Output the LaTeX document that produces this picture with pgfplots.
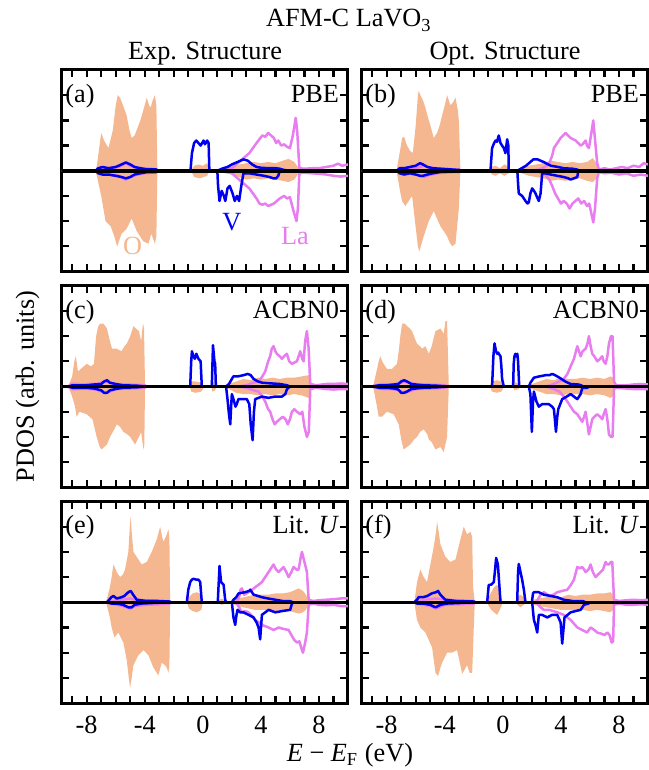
\documentclass[border=0pt]{standalone}
\usepackage{fontspec}
\setmainfont{Liberation Serif}
\usepackage{pgfplots}
\pgfplotsset{compat=1.18}
\usepgfplotslibrary{groupplots,fillbetween}
\definecolor{ocol}{RGB}{245,183,143}
\definecolor{vcol}{RGB}{0,0,240}
\definecolor{lacol}{RGB}{232,125,240}
\pgfplotsset{
  vl/.style={vcol, line width=1pt, line join=round},
  lal/.style={lacol, line width=1pt, line join=round},
  zl/.style={black, line width=1.4pt},
}
\begin{document}
\fontsize{10.5}{12.6}\selectfont
\begin{tikzpicture}
\begin{groupplot}[
  group style={group size=2 by 3, horizontal sep=5.6pt, vertical sep=5.7pt, xticklabels at=edge bottom},
  width=114.4pt, height=80.6pt, scale only axis,
  xmin=-9.7, xmax=10, ymin=-4, ymax=4,
  xtick={-8,-4,0,4,8}, xticklabels={-8,-4,0,4,8},
  minor xtick={-9,-7,-6,-5,-3,-2,-1,1,2,3,5,6,7,9},
  ytick={-3,-2,-1,0,1,2,3}, yticklabel=\empty,
  tick align=inside, major tick length=3pt, minor tick length=3pt,
  every tick/.style={black, line width=0.9pt},
  every minor tick/.style={black, line width=0.9pt},
  axis line style={line width=1.2pt},
  xticklabel style={inner sep=0pt, yshift=-5pt},
  clip mode=individual,
  no markers,
]
% ---------------- (a)
\nextgroupplot
\coordinate (NW) at (rel axis cs:0,1);
\addplot[draw=none, name path=au] coordinates {(-9.7,0) (-7.4,0) (-7.3,0.2) (-7.0,1.5) (-6.8,1.2) (-6.5,0.9) (-6.2,1.6) (-6.0,2.6) (-5.86,3.0) (-5.7,2.9) (-5.5,2.6) (-5.25,2.2) (-5.05,1.6) (-4.9,1.3) (-4.7,1.4) (-4.5,1.7) (-4.3,2.0) (-4.05,2.5) (-3.86,2.9) (-3.7,2.6) (-3.6,2.5) (-3.45,2.8) (-3.3,3.0) (-3.2,2.6) (-3.13,0) (-0.8,0) (-0.6,0.2) (-0.3,0.25) (0,0.2) (0.3,0.3) (0.45,0) (1.2,0) (1.5,0.1) (2.0,0.15) (2.5,0.25) (3.0,0.3) (3.5,0.35) (4.0,0.3) (4.5,0.35) (5.0,0.3) (5.5,0.4) (5.9,0.47) (6.3,0.35) (6.6,0.1) (7.0,0.05) (10,0.05)};
\addplot[draw=none, name path=ad] coordinates {(-9.7,0) (-7.4,0) (-7.3,-0.2) (-7.0,-1.0) (-6.7,-2.0) (-6.35,-2.2) (-6.1,-2.6) (-5.9,-3.0) (-5.6,-2.5) (-5.25,-2.3) (-4.9,-1.9) (-4.55,-2.4) (-4.1,-2.8) (-3.75,-2.9) (-3.55,-2.5) (-3.3,-2.9) (-3.2,-2.6) (-3.13,0) (-0.8,0) (-0.6,-0.25) (-0.2,-0.3) (0.3,-0.2) (0.45,0) (1.2,0) (1.5,-0.1) (2.0,-0.15) (2.5,-0.25) (3.0,-0.35) (3.5,-0.3) (4.0,-0.35) (4.5,-0.3) (5.0,-0.35) (5.5,-0.4) (5.9,-0.45) (6.3,-0.35) (6.6,-0.1) (7.0,-0.05) (10,-0.05)};
\addplot[ocol] fill between[of=au and ad];
\addplot[lal] coordinates {(-9.7,0) (-7.3,0) (-7.0,0.05) (-6.5,0.1) (-5.8,0.15) (-5.3,0.3) (-5.0,0.2) (-4.5,0.1) (-4.0,0.1) (-3.5,0.08) (-3.2,0.05) (-3.1,0) (1.5,0) (2.0,0.1) (2.3,0.25) (2.6,0.4) (2.9,0.55) (3.2,0.7) (3.45,0.9) (3.7,1.1) (3.9,1.25) (4.1,1.4) (4.3,1.35) (4.5,1.5) (4.7,1.4) (4.9,1.3) (5.05,1.1) (5.2,1.2) (5.4,1.0) (5.6,1.05) (5.8,0.95) (6.0,0.9) (6.2,1.4) (6.4,2.1) (6.5,1.6) (6.65,0.1) (7.0,0.08) (7.5,0.1) (8.0,0.1) (8.5,0.15) (9.0,0.2) (9.3,0.28) (9.6,0.2) (10,0.25)};
\addplot[lal] coordinates {(-9.7,0) (-7.3,0) (-7.0,-0.05) (-6.5,-0.15) (-5.8,-0.2) (-5.3,-0.35) (-5.0,-0.25) (-4.5,-0.15) (-4.0,-0.1) (-3.5,-0.08) (-3.2,-0.05) (-3.1,0) (1.5,0) (2.0,-0.1) (2.3,-0.25) (2.6,-0.4) (2.9,-0.55) (3.2,-0.7) (3.45,-0.9) (3.7,-1.1) (3.9,-1.3) (4.1,-1.35) (4.3,-1.3) (4.5,-1.4) (4.7,-1.35) (4.9,-1.3) (5.1,-1.2) (5.3,-1.1) (5.6,-1.0) (5.8,-1.1) (6.0,-1.05) (6.2,-1.5) (6.45,-2.0) (6.55,-1.5) (6.65,-0.1) (7.0,-0.08) (7.5,-0.1) (8.0,-0.12) (8.5,-0.15) (9.0,-0.2) (9.5,-0.23) (10,-0.2)};
\addplot[vl] coordinates {(-9.7,0) (-7.4,0) (-7.2,0.1) (-6.9,0.15) (-6.5,0.1) (-6.0,0.15) (-5.6,0.25) (-5.3,0.33) (-5.0,0.25) (-4.7,0.15) (-4.3,0.1) (-3.8,0.05) (-3.2,0.05) (-3.1,0) (-0.85,0) (-0.75,0.7) (-0.6,1.1) (-0.45,1.2) (-0.3,1.1) (-0.15,1.0) (0.05,1.2) (0.15,1.05) (0.3,1.2) (0.4,1.1) (0.45,0) (1.0,0) (1.4,0.1) (1.7,0.15) (2.0,0.25) (2.4,0.35) (2.6,0.4) (2.8,0.45) (3.1,0.4) (3.4,0.25) (3.7,0.15) (4.0,0.12) (4.5,0.1) (5.0,0.1) (5.3,0.08) (5.6,0.03) (6.0,0) (10,0)};
\addplot[vl] coordinates {(-9.7,0) (-7.4,0) (-7.2,-0.1) (-6.9,-0.15) (-6.5,-0.15) (-6.0,-0.2) (-5.6,-0.25) (-5.3,-0.3) (-5.0,-0.25) (-4.7,-0.15) (-4.3,-0.1) (-3.8,-0.05) (-3.2,-0.05) (-3.1,0) (1.0,0) (1.05,-0.6) (1.15,-1.2) (1.3,-0.8) (1.45,-1.0) (1.55,-1.2) (1.7,-0.7) (1.85,-0.6) (2.05,-0.9) (2.2,-1.2) (2.35,-1.0) (2.5,-1.2) (2.65,-0.6) (2.8,-0.1) (3.2,-0.1) (3.7,-0.15) (4.2,-0.2) (4.6,-0.25) (4.85,-0.3) (5.05,-0.3) (5.2,-0.2) (5.3,0) (10,0)};
\addplot[zl] coordinates {(-9.7,0) (10,0)};
\node[anchor=base west, inner sep=0] at (rel axis cs:0.01,0.84) {(a)};
\node[anchor=base east, inner sep=0] at (rel axis cs:0.97,0.84) {PBE};
\node[ocol] at (axis cs:-4.83,-3.0) {O};
\node[vcol] at (axis cs:2.0,-2.05) {V};
\node[lacol] at (axis cs:6.35,-2.6) {La};
\node[anchor=base, yshift=4pt] at (rel axis cs:0.5,1) {Exp. Structure};
\node[anchor=base, xshift=0.4pt, yshift=17.2pt] at (rel axis cs:1,1) {AFM-C LaVO\textsubscript{3}};
% ---------------- (b)
\nextgroupplot
\addplot[draw=none, name path=bu] coordinates {(-9.7,0) (-7.4,0) (-7.29,0.1) (-7.05,0.9) (-6.94,1.3) (-6.8,1.35) (-6.6,1.0) (-6.4,0.8) (-6.2,0.7) (-6.0,1.8) (-5.85,3.0) (-5.79,3.17) (-5.68,3.0) (-5.5,2.8) (-5.33,2.5) (-5.15,2.1) (-4.99,1.8) (-4.76,1.3) (-4.53,1.5) (-4.35,1.8) (-4.18,2.2) (-4.0,2.6) (-3.84,3.0) (-3.61,2.6) (-3.45,2.7) (-3.26,2.9) (-3.1,2.4) (-3.03,2.0) (-2.92,0) (-0.9,0) (-0.75,0.15) (-0.5,0.2) (-0.2,0.1) (0.1,0.25) (0.3,0.2) (0.5,0) (1.0,0) (1.3,0.1) (1.8,0.2) (2.3,0.25) (2.8,0.3) (3.3,0.4) (3.8,0.35) (4.3,0.3) (4.8,0.35) (5.3,0.3) (5.8,0.35) (6.2,0.5) (6.45,0.3) (6.6,0.1) (7.0,0.05) (10,0.05)};
\addplot[draw=none, name path=bd] coordinates {(-9.7,0) (-7.4,0) (-7.29,-0.1) (-7.05,-0.9) (-6.94,-1.2) (-6.71,-1.4) (-6.48,-1.2) (-6.25,-1.0) (-6.05,-2.0) (-5.85,-3.0) (-5.75,-3.2) (-5.6,-2.9) (-5.45,-2.6) (-5.1,-2.0) (-4.76,-1.6) (-4.53,-1.9) (-4.3,-2.2) (-4.07,-2.4) (-3.84,-2.6) (-3.7,-2.8) (-3.49,-3.0) (-3.26,-2.9) (-3.03,-1.5) (-2.92,0) (-0.9,0) (-0.75,-0.15) (-0.5,-0.2) (-0.2,-0.1) (0.1,-0.2) (0.4,-0.1) (0.5,0) (1.0,0) (1.3,-0.1) (1.8,-0.2) (2.3,-0.25) (2.8,-0.3) (3.3,-0.4) (3.8,-0.35) (4.3,-0.4) (4.8,-0.35) (5.3,-0.3) (5.8,-0.4) (6.2,-0.45) (6.45,-0.3) (6.6,-0.1) (7.0,-0.05) (10,-0.05)};
\addplot[ocol] fill between[of=bu and bd];
\addplot[lal] coordinates {(-9.7,0) (-7.3,0) (-7.0,0.05) (-6.5,0.1) (-6.0,0.1) (-5.7,0.15) (-5.4,0.2) (-5.0,0.12) (-4.5,0.1) (-4.0,0.08) (-3.5,0.06) (-3.0,0.05) (-2.9,0) (2.0,0) (2.5,0.05) (2.9,0.15) (3.2,0.3) (3.4,0.6) (3.52,0.9) (3.75,1.1) (3.98,1.3) (4.15,1.4) (4.32,1.5) (4.5,1.4) (4.67,1.3) (4.85,1.25) (5.01,1.2) (5.2,1.1) (5.36,1.0) (5.5,1.05) (5.7,1.2) (5.8,1.0) (5.93,0.9) (6.1,1.5) (6.23,2.0) (6.39,1.0) (6.5,0.3) (6.62,0.05) (7.0,0.1) (7.4,0.05) (7.8,0.1) (8.2,0.15) (8.6,0.1) (9.0,0.2) (9.4,0.15) (9.7,0.3) (10,0.25)};
\addplot[lal] coordinates {(-9.7,0) (-7.3,0) (-7.0,-0.05) (-6.5,-0.1) (-6.0,-0.15) (-5.7,-0.2) (-5.4,-0.25) (-5.0,-0.15) (-4.5,-0.1) (-4.0,-0.08) (-3.5,-0.06) (-3.0,-0.05) (-2.9,0) (2.0,0) (2.5,-0.05) (2.9,-0.15) (3.2,-0.35) (3.4,-0.6) (3.6,-0.9) (3.8,-1.1) (4.0,-1.3) (4.2,-1.2) (4.4,-1.3) (4.6,-1.5) (4.8,-1.3) (5.0,-1.2) (5.2,-1.1) (5.4,-1.3) (5.6,-1.2) (5.8,-1.4) (5.95,-1.3) (6.1,-1.7) (6.23,-2.05) (6.35,-1.5) (6.5,-0.3) (6.62,-0.05) (7.0,-0.1) (7.5,-0.08) (8.0,-0.15) (8.5,-0.1) (9.0,-0.2) (9.5,-0.15) (10,-0.2)};
\addplot[vl] coordinates {(-9.7,0) (-7.3,0) (-7.1,0.1) (-6.8,0.1) (-6.4,0.15) (-6.0,0.2) (-5.7,0.3) (-5.5,0.25) (-5.2,0.15) (-4.8,0.1) (-4.3,0.08) (-3.5,0.05) (-3.0,0.03) (-2.9,0) (-0.85,0) (-0.74,0.9) (-0.6,1.1) (-0.5,1.2) (-0.4,1.15) (-0.28,1.4) (-0.16,1.1) (-0.05,1.0) (0.07,0.9) (0.18,0.7) (0.3,1.25) (0.38,1.0) (0.41,0) (1.0,0) (1.3,0.1) (1.6,0.2) (1.8,0.3) (2.1,0.45) (2.4,0.45) (2.6,0.4) (2.8,0.35) (3.3,0.2) (3.8,0.15) (4.2,0.1) (4.8,0.08) (5.1,0.05) (5.3,0) (10,0)};
\addplot[vl] coordinates {(-9.7,0) (-7.3,0) (-7.1,-0.1) (-6.8,-0.15) (-6.4,-0.1) (-6.0,-0.15) (-5.7,-0.2) (-5.5,-0.2) (-5.2,-0.15) (-4.8,-0.1) (-4.3,-0.05) (-3.5,-0.03) (-2.9,0) (1.0,0) (1.05,-0.5) (1.1,-0.9) (1.33,-1.0) (1.45,-1.1) (1.56,-1.2) (1.7,-1.3) (1.79,-1.25) (1.9,-0.9) (2.02,-0.7) (2.15,-0.8) (2.25,-0.9) (2.4,-1.1) (2.48,-1.2) (2.6,-0.9) (2.71,-0.1) (2.9,-0.1) (3.3,-0.15) (3.75,-0.2) (4.2,-0.25) (4.5,-0.3) (4.67,-0.35) (4.9,-0.3) (5.13,-0.25) (5.2,0) (10,0)};
\addplot[zl] coordinates {(-9.7,0) (10,0)};
\node[anchor=base west, inner sep=0] at (rel axis cs:0.01,0.84) {(b)};
\node[anchor=base east, inner sep=0] at (rel axis cs:0.97,0.84) {PBE};
\node[anchor=base, yshift=4pt] at (rel axis cs:0.5,1) {Opt. Structure};
% ---------------- (c)
\nextgroupplot
\addplot[draw=none, name path=cu] coordinates {(-9.7,0) (-9.4,0) (-9.2,0.1) (-9.0,0.4) (-8.85,1.0) (-8.75,1.2) (-8.6,0.6) (-8.4,0.7) (-8.0,0.9) (-7.7,0.8) (-7.5,0.9) (-7.35,2.0) (-7.2,2.4) (-7.05,2.5) (-6.85,2.5) (-6.6,2.3) (-6.4,1.8) (-6.25,1.5) (-5.93,1.5) (-5.6,1.4) (-5.4,1.6) (-5.24,1.7) (-5.0,2.0) (-4.78,2.4) (-4.6,2.3) (-4.4,2.2) (-4.25,1.8) (-4.12,2.5) (-4.05,2.3) (-3.98,0) (-0.9,0) (-0.8,0.2) (-0.5,0.2) (-0.1,0.15) (0.1,0) (0.6,0) (0.65,0.2) (0.85,0.15) (0.95,0) (1.5,0) (1.8,0.1) (2.3,0.2) (2.8,0.3) (3.3,0.25) (3.8,0.35) (4.3,0.3) (4.8,0.35) (5.3,0.3) (5.8,0.35) (6.3,0.35) (6.8,0.4) (7.3,0.45) (7.4,0.1) (7.6,0.05) (10,0.05)};
\addplot[draw=none, name path=cd] coordinates {(-9.7,0) (-9.4,0) (-9.2,-0.1) (-9.0,-0.4) (-8.8,-0.8) (-8.7,-1.2) (-8.5,-1.0) (-8.0,-1.1) (-7.6,-1.3) (-7.31,-2.0) (-7.1,-2.4) (-6.97,-2.5) (-6.8,-2.4) (-6.6,-2.3) (-6.39,-2.0) (-6.1,-1.7) (-5.93,-1.5) (-5.7,-1.6) (-5.47,-1.8) (-5.2,-1.9) (-5.0,-2.0) (-4.67,-2.3) (-4.4,-2.0) (-4.25,-1.8) (-4.09,-2.5) (-4.03,-2.3) (-3.98,0) (-0.9,0) (-0.8,-0.2) (-0.5,-0.25) (-0.1,-0.2) (0.1,0) (0.6,0) (0.65,-0.2) (0.85,-0.15) (0.95,0) (1.5,0) (1.8,-0.1) (2.3,-0.25) (2.8,-0.3) (3.3,-0.3) (3.8,-0.35) (4.3,-0.3) (4.8,-0.35) (5.3,-0.3) (5.8,-0.35) (6.3,-0.3) (6.8,-0.35) (7.3,-0.45) (7.4,-0.1) (7.6,-0.05) (10,-0.05)};
\addplot[ocol] fill between[of=cu and cd];
\addplot[lal] coordinates {(-9.7,0) (-9.3,0) (-9.0,0.1) (-8.7,0.1) (-8.3,0.08) (-7.8,0.1) (-7.3,0.1) (-7.0,0.15) (-6.7,0.2) (-6.4,0.15) (-6.0,0.1) (-5.0,0.08) (-4.0,0.05) (-3.9,0) (2.5,0) (3.0,0.05) (3.5,0.15) (3.84,0.2) (4.1,0.4) (4.3,0.6) (4.5,1.0) (4.64,1.2) (4.75,1.5) (4.87,1.6) (5.0,1.4) (5.1,1.3) (5.3,1.2) (5.45,1.1) (5.6,1.2) (5.79,1.3) (5.95,1.0) (6.14,0.9) (6.3,0.95) (6.48,1.0) (6.6,1.2) (6.71,1.4) (6.85,1.1) (6.94,1.0) (7.05,1.8) (7.17,2.2) (7.29,1.5) (7.4,0.1) (7.8,0.05) (8.5,0.1) (9.0,0.1) (9.5,0.12) (10,0.1)};
\addplot[lal] coordinates {(-9.7,0) (-9.3,0) (-9.0,-0.1) (-8.7,-0.1) (-8.3,-0.08) (-7.8,-0.1) (-7.3,-0.12) (-7.0,-0.2) (-6.7,-0.25) (-6.4,-0.2) (-6.0,-0.1) (-5.0,-0.08) (-4.0,-0.05) (-3.9,0) (2.5,0) (3.0,-0.05) (3.5,-0.15) (3.84,-0.2) (4.1,-0.4) (4.3,-0.6) (4.5,-0.9) (4.64,-1.0) (4.8,-1.3) (4.95,-1.5) (5.1,-1.4) (5.3,-1.3) (5.5,-1.2) (5.7,-1.3) (5.85,-1.5) (6.0,-1.3) (6.14,-1.0) (6.3,-0.9) (6.48,-1.0) (6.71,-1.1) (6.85,-1.0) (7.0,-1.6) (7.17,-2.0) (7.3,-1.8) (7.4,-0.1) (7.8,-0.05) (8.5,-0.1) (9.0,-0.12) (9.5,-0.1) (10,-0.1)};
\addplot[vl] coordinates {(-9.7,0) (-9.2,0) (-9.0,0.05) (-8.5,0.05) (-8.0,0.05) (-7.5,0.08) (-7.0,0.1) (-6.8,0.2) (-6.6,0.25) (-6.4,0.15) (-6.0,0.1) (-5.5,0.05) (-4.5,0.03) (-4.0,0) (-0.87,0) (-0.8,1.0) (-0.75,1.4) (-0.65,1.2) (-0.55,1.1) (-0.45,1.3) (-0.3,1.1) (-0.15,1.0) (-0.07,0) (0.62,0) (0.7,1.64) (0.8,1.0) (0.85,0.9) (0.9,0) (1.6,0) (1.8,0.1) (2.0,0.3) (2.1,0.4) (2.4,0.4) (2.8,0.45) (3.1,0.5) (3.3,0.45) (3.5,0.3) (3.8,0.2) (4.1,0.15) (4.8,0.12) (5.3,0.1) (5.8,0.05) (6.0,0) (10,0)};
\addplot[vl] coordinates {(-9.7,0) (-9.2,0) (-9.0,-0.05) (-8.5,-0.05) (-8.0,-0.05) (-7.5,-0.08) (-7.0,-0.15) (-6.8,-0.25) (-6.6,-0.25) (-6.4,-0.15) (-6.0,-0.1) (-5.5,-0.05) (-4.5,-0.03) (-4.0,0) (1.6,0) (1.7,-0.5) (1.8,-1.1) (1.89,-1.5) (1.95,-0.8) (2.0,-0.3) (2.11,-0.5) (2.25,-0.8) (2.34,-0.7) (2.45,-0.5) (2.57,-0.5) (3.03,-0.5) (3.2,-0.7) (3.3,-1.5) (3.43,-2.13) (3.52,-1.0) (3.61,-0.5) (4.07,-0.4) (4.5,-0.45) (4.99,-0.4) (5.45,-0.4) (5.68,-0.3) (5.8,-0.1) (5.91,-0.05) (6.0,0) (10,0)};
\addplot[zl] coordinates {(-9.7,0) (10,0)};
\node[anchor=base west, inner sep=0] at (rel axis cs:0.01,0.84) {(c)};
\node[anchor=base east, inner sep=0] at (rel axis cs:0.97,0.84) {ACBN0};
\node[xshift=-11.2pt, rotate=90, anchor=base] at (rel axis cs:0,0.5) {PDOS (arb. units)};
% ---------------- (d)
\nextgroupplot
\addplot[draw=none, name path=du] coordinates {(-9.7,0) (-9.0,0) (-8.9,0.1) (-8.7,0.6) (-8.55,1.0) (-8.44,1.2) (-8.3,1.0) (-8.21,0.9) (-7.98,0.7) (-7.63,0.7) (-7.29,0.9) (-7.15,1.5) (-7.06,2.0) (-6.94,2.5) (-6.75,2.5) (-6.6,2.4) (-6.4,2.3) (-6.25,2.2) (-6.05,1.9) (-5.91,1.7) (-5.7,1.6) (-5.56,1.5) (-5.33,1.6) (-5.1,1.3) (-4.9,1.6) (-4.64,2.2) (-4.3,2.3) (-4.07,2.1) (-3.95,2.6) (-3.84,2.6) (-3.72,0) (-0.9,0) (-0.75,0.2) (-0.4,0.25) (-0.1,0.2) (0.1,0) (0.7,0) (0.8,0.2) (1.1,0.1) (1.2,0) (1.7,0) (2.0,0.1) (2.5,0.2) (3.0,0.3) (3.5,0.25) (4.0,0.35) (4.5,0.3) (5.0,0.3) (5.5,0.35) (6.0,0.3) (6.5,0.35) (7.0,0.3) (7.4,0.4) (7.6,0.35) (7.75,0.05) (10,0.03)};
\addplot[draw=none, name path=dd] coordinates {(-9.7,0) (-9.0,0) (-8.9,-0.1) (-8.7,-0.7) (-8.55,-1.2) (-8.32,-1.2) (-7.98,-1.0) (-7.52,-1.1) (-7.17,-1.5) (-7.0,-2.1) (-6.83,-2.5) (-6.6,-2.4) (-6.37,-2.3) (-6.1,-2.1) (-5.91,-2.0) (-5.7,-1.8) (-5.45,-1.7) (-5.2,-1.9) (-5.1,-2.1) (-4.9,-2.2) (-4.64,-2.5) (-4.3,-2.4) (-4.07,-2.6) (-3.84,-2.0) (-3.72,0) (-0.9,0) (-0.75,-0.2) (-0.4,-0.25) (-0.1,-0.2) (0.1,0) (0.7,0) (0.8,-0.15) (1.1,-0.1) (1.2,0) (1.7,0) (2.0,-0.1) (2.5,-0.2) (3.0,-0.3) (3.5,-0.3) (4.0,-0.35) (4.5,-0.3) (5.0,-0.3) (5.5,-0.3) (6.0,-0.35) (6.5,-0.3) (7.0,-0.35) (7.4,-0.45) (7.6,-0.4) (7.75,-0.05) (10,-0.03)};
\addplot[ocol] fill between[of=du and dd];
\addplot[lal] coordinates {(-9.7,0) (-9.0,0) (-8.7,0.05) (-8.3,0.1) (-7.8,0.08) (-7.3,0.1) (-7.0,0.15) (-6.8,0.2) (-6.5,0.15) (-6.0,0.1) (-5.0,0.08) (-4.0,0.05) (-3.7,0) (3.0,0) (3.5,0.1) (3.9,0.2) (4.2,0.3) (4.45,0.5) (4.67,0.8) (4.9,1.1) (5.13,1.6) (5.25,1.4) (5.36,1.2) (5.5,1.4) (5.7,1.5) (5.83,1.7) (5.93,2.0) (6.05,1.6) (6.16,1.3) (6.3,1.2) (6.51,1.0) (6.7,1.1) (6.85,1.2) (6.95,1.0) (7.08,0.9) (7.2,1.2) (7.31,1.7) (7.45,2.0) (7.56,2.0) (7.66,0.2) (7.8,0.05) (8.5,0.05) (9.0,0.08) (9.5,0.1) (10,0.08)};
\addplot[lal] coordinates {(-9.7,0) (-9.0,0) (-8.7,-0.05) (-8.3,-0.1) (-7.8,-0.1) (-7.3,-0.12) (-7.0,-0.2) (-6.8,-0.25) (-6.5,-0.2) (-6.0,-0.1) (-5.0,-0.08) (-4.0,-0.05) (-3.7,0) (3.0,0) (3.5,-0.1) (3.9,-0.2) (4.2,-0.4) (4.45,-0.6) (4.67,-0.8) (4.9,-1.0) (5.13,-1.1) (5.3,-1.25) (5.47,-1.4) (5.6,-1.2) (5.7,-1.0) (5.83,-1.5) (5.93,-1.9) (6.05,-1.6) (6.16,-1.3) (6.3,-1.2) (6.51,-1.1) (6.7,-1.2) (6.85,-1.3) (6.95,-1.1) (7.08,-0.9) (7.2,-1.3) (7.31,-1.9) (7.45,-2.0) (7.56,-2.0) (7.66,-0.1) (7.8,-0.05) (8.5,-0.08) (9.0,-0.1) (9.5,-0.1) (10,-0.1)};
\addplot[vl] coordinates {(-9.7,0) (-9.0,0) (-8.5,0.05) (-8.0,0.05) (-7.5,0.08) (-7.2,0.1) (-7.0,0.2) (-6.8,0.25) (-6.6,0.2) (-6.3,0.1) (-6.0,0.08) (-5.5,0.05) (-4.5,0.03) (-3.8,0) (-0.74,0) (-0.65,1.2) (-0.57,1.71) (-0.47,1.4) (-0.39,1.3) (-0.32,1.35) (-0.28,1.3) (-0.16,1.2) (-0.1,0.8) (-0.05,0.3) (0.07,0) (0.71,0) (0.75,0.9) (0.8,1.2) (0.87,1.3) (0.92,1.2) (1.0,1.3) (1.05,1.0) (1.13,0) (1.8,0) (1.9,0.15) (2.14,0.35) (2.5,0.4) (2.95,0.45) (3.2,0.45) (3.4,0.5) (3.6,0.45) (3.9,0.35) (4.3,0.2) (4.67,0.1) (5.2,0.08) (5.4,0.05) (5.5,0) (10,0)};
\addplot[vl] coordinates {(-9.7,0) (-9.0,0) (-8.5,-0.05) (-8.0,-0.05) (-7.5,-0.08) (-7.2,-0.12) (-7.0,-0.25) (-6.8,-0.25) (-6.6,-0.2) (-6.3,-0.1) (-6.0,-0.08) (-5.5,-0.05) (-4.5,-0.03) (-3.8,0) (1.79,0) (1.9,-0.3) (2.0,-1.8) (2.08,-0.6) (2.14,-0.2) (2.32,-0.6) (2.48,-0.8) (2.71,-0.7) (3.17,-0.7) (3.4,-0.8) (3.52,-0.9) (3.6,-1.4) (3.66,-1.8) (3.75,-1.2) (3.82,-0.9) (4.09,-0.5) (4.4,-0.4) (4.67,-0.3) (4.9,-0.4) (5.13,-0.5) (5.25,-0.4) (5.36,-0.3) (5.47,-0.05) (5.8,-0.05) (6.0,0) (10,0)};
\addplot[zl] coordinates {(-9.7,0) (10,0)};
\node[anchor=base west, inner sep=0] at (rel axis cs:0.01,0.84) {(d)};
\node[anchor=base east, inner sep=0] at (rel axis cs:0.97,0.84) {ACBN0};
% ---------------- (e)
\nextgroupplot
\addplot[draw=none, name path=eu] coordinates {(-9.7,0) (-6.7,0) (-6.62,0.1) (-6.4,0.6) (-6.28,1.0) (-6.16,1.5) (-6.0,1.3) (-5.93,1.2) (-5.7,1.0) (-5.5,1.1) (-5.36,1.3) (-5.13,2.0) (-5.03,3.0) (-4.97,3.4) (-4.9,2.8) (-4.78,2.0) (-4.55,1.8) (-4.21,1.5) (-3.86,1.6) (-3.52,2.0) (-3.17,2.5) (-2.94,3.0) (-2.8,2.6) (-2.71,2.4) (-2.55,2.6) (-2.48,2.7) (-2.37,2.9) (-2.3,2.5) (-2.25,0) (-1.1,0) (-0.95,0.2) (-0.7,0.35) (-0.4,0.4) (-0.1,0.3) (0.0,0) (1.0,0) (1.1,0.1) (1.3,0.15) (1.6,0.05) (1.8,0) (2.0,0.05) (2.4,0.15) (2.8,0.2) (3.2,0.25) (3.6,0.3) (4.0,0.3) (4.5,0.3) (5.0,0.35) (5.5,0.35) (6.0,0.4) (6.6,0.55) (6.9,0.45) (7.1,0.3) (7.25,0.1) (7.5,0.05) (10,0.03)};
\addplot[draw=none, name path=ed] coordinates {(-9.7,0) (-6.7,0) (-6.62,-0.1) (-6.4,-0.6) (-6.28,-1.0) (-6.09,-1.4) (-5.82,-1.2) (-5.47,-1.6) (-5.24,-2.3) (-5.1,-3.0) (-5.01,-3.4) (-4.9,-3.0) (-4.78,-2.5) (-4.44,-2.1) (-4.09,-1.9) (-3.75,-2.1) (-3.4,-2.6) (-3.06,-2.9) (-2.83,-2.4) (-2.6,-2.5) (-2.48,-2.6) (-2.37,-2.8) (-2.3,-2.5) (-2.25,0) (-1.1,0) (-0.95,-0.25) (-0.7,-0.35) (-0.4,-0.4) (-0.1,-0.3) (0.0,0) (1.0,0) (1.1,-0.05) (1.3,-0.1) (1.6,-0.05) (1.8,0) (2.0,-0.05) (2.4,-0.15) (2.8,-0.2) (3.2,-0.25) (3.6,-0.3) (4.0,-0.3) (4.5,-0.3) (5.0,-0.35) (5.5,-0.3) (6.0,-0.35) (6.6,-0.45) (6.9,-0.4) (7.1,-0.3) (7.25,-0.1) (7.5,-0.05) (10,-0.03)};
\addplot[ocol] fill between[of=eu and ed];
\addplot[lal] coordinates {(-9.7,0) (-6.6,0) (-6.3,0.05) (-5.9,0.08) (-5.5,0.1) (-5.0,0.15) (-4.7,0.1) (-4.0,0.08) (-3.0,0.05) (-2.3,0.05) (-2.2,0) (2.3,0) (2.5,0.2) (2.6,0.5) (2.69,0.55) (2.85,0.3) (3.15,0.4) (3.4,0.5) (3.61,0.6) (3.85,0.7) (4.07,0.8) (4.3,1.0) (4.53,1.2) (4.7,1.35) (4.87,1.5) (5.05,1.3) (5.22,1.2) (5.4,1.3) (5.56,1.4) (5.75,1.2) (5.91,1.0) (6.1,1.2) (6.25,1.4) (6.45,1.3) (6.6,1.3) (6.75,1.8) (6.83,2.0) (7.0,1.6) (7.17,1.2) (7.29,0.1) (7.6,0.05) (8.0,0.08) (8.5,0.1) (9.0,0.12) (9.5,0.15) (10,0.15)};
\addplot[lal] coordinates {(-9.7,0) (-6.6,0) (-6.3,-0.05) (-5.9,-0.1) (-5.5,-0.15) (-5.0,-0.25) (-4.7,-0.15) (-4.0,-0.1) (-3.0,-0.08) (-2.3,-0.05) (-2.2,0) (2.3,0) (2.5,-0.2) (2.69,-0.4) (2.9,-0.35) (3.15,-0.4) (3.4,-0.55) (3.61,-0.7) (3.85,-0.8) (4.07,-0.9) (4.3,-0.95) (4.53,-1.0) (4.87,-1.1) (5.05,-1.05) (5.22,-1.0) (5.5,-1.05) (5.91,-1.1) (6.1,-1.3) (6.3,-1.5) (6.5,-1.6) (6.65,-1.55) (6.83,-1.9) (6.9,-2.0) (7.05,-1.6) (7.17,-1.2) (7.29,-0.1) (7.6,-0.05) (8.0,-0.1) (8.5,-0.12) (9.0,-0.1) (9.5,-0.15) (10,-0.15)};
\addplot[vl] coordinates {(-9.7,0) (-6.6,0) (-6.3,0.2) (-6.16,0.25) (-5.93,0.15) (-5.6,0.2) (-5.4,0.25) (-5.13,0.4) (-4.97,0.45) (-4.8,0.3) (-4.55,0.1) (-4.0,0.06) (-3.0,0.05) (-2.3,0.03) (-2.2,0) (-1.1,0) (-1.0,0.5) (-0.87,0.8) (-0.75,0.9) (-0.64,0.93) (-0.45,0.9) (-0.3,0.9) (-0.18,0.8) (-0.07,0) (1.03,0) (1.15,1.44) (1.26,0.8) (1.43,0.7) (1.54,0.1) (1.61,0) (2.0,0) (2.11,0.1) (2.3,0.2) (2.46,0.35) (2.9,0.4) (3.2,0.45) (3.26,0.5) (3.5,0.3) (3.8,0.25) (4.07,0.2) (4.5,0.15) (5.0,0.1) (5.5,0.05) (6.0,0.05) (6.2,0) (10,0)};
\addplot[vl] coordinates {(-9.7,0) (-6.6,0) (-6.3,-0.05) (-5.93,-0.05) (-5.5,-0.1) (-5.13,-0.2) (-4.9,-0.2) (-4.7,-0.1) (-4.21,-0.05) (-3.5,-0.03) (-2.3,0) (2.0,0) (2.11,-0.6) (2.23,-0.9) (2.32,-0.5) (2.39,-0.3) (2.57,-0.4) (2.8,-0.4) (3.15,-0.5) (3.49,-0.6) (3.7,-0.8) (3.84,-1.0) (3.95,-1.47) (4.07,-0.5) (4.53,-0.3) (4.99,-0.4) (5.45,-0.35) (6.02,-0.3) (6.14,-0.05) (6.3,0) (10,0)};
\addplot[zl] coordinates {(-9.7,0) (10,0)};
\node[anchor=base west, inner sep=0] at (rel axis cs:0.01,0.84) {(e)};
\node[anchor=base east, inner sep=0] at (rel axis cs:0.97,0.84) {Lit. \textit{U}};
\node[anchor=base, inner sep=0, xshift=0.8pt, yshift=-23.4pt] at (rel axis cs:1,0) {\textit{E} − \textit{E}\textsubscript{F} (eV)};
% ---------------- (f)
\nextgroupplot
\addplot[draw=none, name path=fu] coordinates {(-9.7,0) (-6.15,0) (-6.07,0.1) (-5.91,0.8) (-5.68,1.3) (-5.45,1.0) (-5.22,0.8) (-4.99,1.5) (-4.76,2.2) (-4.6,2.8) (-4.53,3.2) (-4.42,2.8) (-4.3,2.3) (-3.95,1.8) (-3.61,1.6) (-3.26,1.7) (-2.92,2.5) (-2.69,3.0) (-2.46,2.7) (-2.23,2.8) (-2.11,2.6) (-2.05,0.6) (-1.93,0) (-1.1,0) (-0.97,0.2) (-0.8,0.4) (-0.6,0.6) (-0.4,0.7) (-0.25,0.5) (-0.1,0.2) (0.0,0) (0.9,0) (1.0,0.2) (1.2,0.3) (1.45,0.2) (1.6,0) (1.9,0) (2.1,0.1) (2.5,0.15) (3.0,0.2) (3.5,0.25) (4.0,0.2) (4.5,0.3) (5.0,0.25) (5.5,0.3) (6.0,0.3) (6.5,0.35) (7.0,0.35) (7.4,0.4) (7.6,0.3) (7.7,0.05) (10,0.03)};
\addplot[draw=none, name path=fd] coordinates {(-9.7,0) (-6.15,0) (-6.07,-0.1) (-5.91,-0.7) (-5.68,-1.0) (-5.33,-1.2) (-4.87,-1.8) (-4.64,-2.8) (-4.46,-2.93) (-4.3,-2.6) (-4.18,-2.4) (-3.84,-2.0) (-3.49,-2.0) (-3.15,-1.9) (-2.8,-2.84) (-2.46,-2.5) (-2.28,-2.8) (-2.11,-2.8) (-2.0,-1.0) (-1.93,0) (-1.1,0) (-0.97,-0.15) (-0.8,-0.3) (-0.6,-0.4) (-0.4,-0.5) (-0.25,-0.35) (-0.1,-0.15) (0.0,0) (0.9,0) (1.0,-0.1) (1.2,-0.2) (1.45,-0.1) (1.6,0) (1.9,0) (2.1,-0.1) (2.5,-0.15) (3.0,-0.2) (3.5,-0.25) (4.0,-0.3) (4.5,-0.3) (5.0,-0.3) (5.5,-0.3) (6.0,-0.35) (6.5,-0.3) (7.0,-0.35) (7.4,-0.4) (7.6,-0.3) (7.7,-0.05) (10,-0.03)};
\addplot[ocol] fill between[of=fu and fd];
\addplot[lal] coordinates {(-9.7,0) (-6.1,0) (-5.8,0.05) (-5.4,0.1) (-5.0,0.12) (-4.6,0.15) (-4.0,0.1) (-3.0,0.08) (-2.0,0.05) (-1.9,0) (2.3,0) (2.6,0.3) (2.83,0.4) (3.2,0.25) (3.5,0.3) (3.75,0.4) (4.1,0.45) (4.44,0.5) (4.7,0.7) (4.9,0.9) (5.13,1.4) (5.3,1.35) (5.47,1.4) (5.6,1.3) (5.7,1.2) (5.9,1.3) (6.05,1.5) (6.2,1.2) (6.39,1.0) (6.55,1.1) (6.74,1.2) (6.9,1.3) (7.08,1.6) (7.2,1.5) (7.31,1.5) (7.45,1.6) (7.54,1.6) (7.66,0.1) (8.0,0.05) (8.5,0.08) (9.0,0.1) (9.5,0.08) (10,0.1)};
\addplot[lal] coordinates {(-9.7,0) (-6.1,0) (-5.8,-0.05) (-5.4,-0.1) (-5.0,-0.15) (-4.6,-0.25) (-4.0,-0.1) (-3.0,-0.08) (-2.0,-0.05) (-1.9,0) (2.3,0) (2.6,-0.2) (2.83,-0.3) (3.2,-0.3) (3.75,-0.4) (4.2,-0.5) (4.67,-0.7) (4.9,-0.85) (5.13,-1.0) (5.47,-1.1) (5.8,-1.2) (6.05,-1.0) (6.3,-1.1) (6.5,-1.2) (6.8,-1.25) (7.0,-1.3) (7.2,-1.2) (7.35,-1.3) (7.5,-1.6) (7.6,-1.55) (7.66,-0.1) (8.0,-0.05) (8.5,-0.1) (9.0,-0.1) (9.5,-0.08) (10,-0.1)};
\addplot[vl] coordinates {(-9.7,0) (-6.1,0) (-5.91,0.1) (-5.8,0.2) (-5.5,0.2) (-5.2,0.25) (-4.9,0.35) (-4.6,0.4) (-4.46,0.45) (-4.3,0.3) (-3.95,0.1) (-3.2,0.05) (-2.0,0.03) (-1.9,0) (-1.08,0) (-0.97,0.69) (-0.8,0.7) (-0.62,0.8) (-0.55,1.2) (-0.46,1.76) (-0.34,1.5) (-0.23,0.6) (-0.16,0) (0.99,0) (1.05,1.2) (1.1,1.52) (1.22,1.2) (1.33,0.9) (1.45,0.5) (1.56,0) (2.0,0) (2.08,0.35) (2.14,0.4) (2.48,0.4) (2.83,0.3) (3.3,0.25) (3.75,0.2) (4.2,0.1) (4.8,0.05) (5.5,0.05) (5.7,0) (10,0)};
\addplot[vl] coordinates {(-9.7,0) (-6.1,0) (-5.91,-0.05) (-5.5,-0.05) (-5.0,-0.1) (-4.64,-0.2) (-4.3,-0.1) (-3.84,-0.05) (-3.0,-0.03) (-1.9,0) (2.02,0) (2.14,-0.7) (2.25,-0.9) (2.37,-1.2) (2.48,-0.5) (2.71,-0.5) (3.06,-0.6) (3.4,-0.5) (3.75,-0.5) (3.98,-0.8) (4.09,-1.64) (4.25,-0.6) (4.67,-0.4) (5.0,-0.35) (5.36,-0.3) (5.59,-0.1) (5.9,-0.05) (6.0,0) (10,0)};
\addplot[zl] coordinates {(-9.7,0) (10,0)};
\node[anchor=base west, inner sep=0] at (rel axis cs:0.01,0.84) {(f)};
\node[anchor=base east, inner sep=0] at (rel axis cs:0.97,0.84) {Lit. \textit{U}};
\end{groupplot}
\pgfresetboundingbox
\path ([shift={(-24.8pt,28pt)}]NW) rectangle ([shift={(234.8pt,-280pt)}]NW);
\end{tikzpicture}
\end{document}
